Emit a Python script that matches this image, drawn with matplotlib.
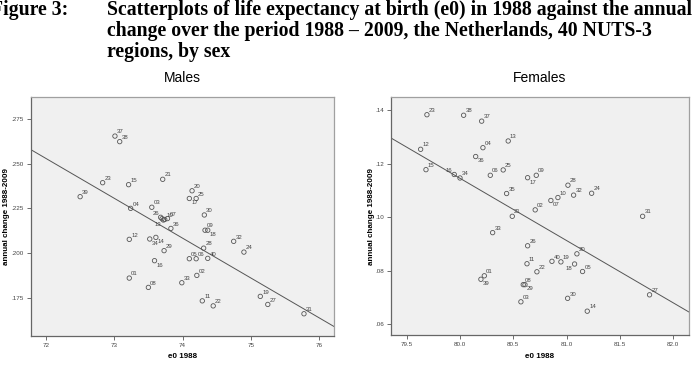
import numpy as np
import matplotlib
matplotlib.use("Agg")
import matplotlib.pyplot as plt
from matplotlib.ticker import FuncFormatter

# regions 01..40
regions = ["%02d" % i for i in range(1, 41)]

# Males : e0 1988 et variation annuelle 1988-2009
male_e0 = [73.22, 74.21, 73.55, 73.24, 74.10, 74.20, 73.78, 73.50, 74.33, 73.74,
           74.29, 73.22, 73.72, 73.61, 73.21, 73.59, 74.10, 74.37, 75.14, 74.14,
           73.71, 74.45, 72.83, 74.90, 74.20, 73.68, 75.25, 74.31, 73.73, 74.32,
           75.78, 74.75, 73.99, 73.52, 73.70, 73.83, 73.01, 73.08, 72.50, 74.37]
male_change = [.1861, .1876, .2256, .2250, .1969, .1969, .2193, .1809, .2128, .2188,
               .1734, .2077, .2185, .2088, .2382, .1958, .2305, .2128, .1759, .2348,
               .2412, .1706, .2393, .2006, .2305, .2200, .1714, .2028, .2014, .2213,
               .1662, .2066, .1835, .2079, .2192, .2138, .2653, .2622, .2315, .1971]

# Females
female_e0 = [80.228, 80.705, 80.571, 80.215, 81.149, 80.284, 80.852, 80.593, 80.715, 80.918,
             80.628, 79.631, 80.452, 81.193, 79.681, 79.946, 80.634, 81.074, 80.946, 81.096,
             80.490, 80.721, 79.690, 81.234, 80.405, 80.634, 81.777, 81.012, 80.609, 81.009,
             81.712, 81.065, 80.306, 80.000, 80.437, 80.147, 80.203, 80.034, 80.196, 80.862]
female_change = [.0781, .1027, .0684, .1259, .0797, .1156, .1062, .0748, .1156, .1073,
                 .0826, .1253, .1284, .0649, .1177, .1159, .1147, .0825, .0833, .0863,
                 .1003, .0796, .1382, .1089, .1176, .0893, .0710, .1119, .0748, .0697,
                 .1003, .1082, .0942, .1146, .1088, .1226, .1358, .1380, .0768, .0835]

male_xticks = [72, 73, 74, 75, 76]
male_yticks = [.175, .200, .225, .250, .275]
female_xticks = [79.5, 80.0, 80.5, 81.0, 81.5, 82.0]
female_yticks = [.06, .08, .10, .12, .14]

# placement des étiquettes (par défaut en haut à droite)
male_label_pos = {"17": "br", "18": "br", "16": "br", "34": "br", "14": "br", "13": "bl",
                  "26": "tl", "35": None}
female_label_pos = {"17": "br", "39": "br", "29": "br", "07": "br", "36": "br", "18": "bl", "16": "tl"}

plt.rcParams["font.family"] = ["Liberation Sans", "DejaVu Sans"]

fig = plt.figure(figsize=(6.92, 3.66), dpi=100)
fig.patch.set_facecolor("white")

# titre
title_font = dict(family="Liberation Serif", weight="bold", fontsize=14.2, color="black")
fig.text(-9 / 692, 1 - 10 / 366, "Figure 3:", va="center", ha="left", **title_font)
fig.text(107 / 692, 1 - 10 / 366, "Scatterplots of life expectancy at birth (e0) in 1988 against the annual",
         va="center", ha="left", **title_font)
fig.text(107 / 692, 1 - 31 / 366, "change over the period 1988 \u2013 2009, the Netherlands, 40 NUTS-3",
         va="center", ha="left", **title_font)
fig.text(107 / 692, 1 - 52 / 366, "regions, by sex", va="center", ha="left", **title_font)


def draw_panel(rect, x, y, xlim, ylim, xticks, yticks, xfmt, yfmt, label_pos, name, ylab_x):
    ax = fig.add_axes(rect)
    ax.set_facecolor("#f0f0f0")
    ax.scatter(x, y, s=10, facecolors="none", edgecolors="#555555", linewidths=0.6, zorder=3)

    # droite de regression
    b, a = np.polyfit(x, y, 1)
    xs = np.array(xlim)
    ax.plot(xs, a + b * xs, color="#555555", lw=0.7, zorder=2)

    offsets = {"tr": ((1.3, 1.3), "left", "bottom"),
               "br": ((1.3, -1.3), "left", "top"),
               "bl": ((-1.3, -1.3), "right", "top"),
               "tl": ((-1.3, 1.3), "right", "bottom")}
    for lab, xi, yi in zip(regions, x, y):
        pos = label_pos.get(lab, "tr")
        if pos is None:
            continue
        off, ha, va = offsets[pos]
        ax.annotate(lab, (xi, yi), xytext=off, textcoords="offset points",
                    ha=ha, va=va, fontsize=4.3, color="#444444", zorder=4)

    ax.set_xlim(xlim)
    ax.set_ylim(ylim)
    ax.set_xticks(xticks)
    ax.set_yticks(yticks)
    ax.xaxis.set_major_formatter(FuncFormatter(xfmt))
    ax.yaxis.set_major_formatter(FuncFormatter(yfmt))
    ax.tick_params(length=3, width=0.6, color="#555555", labelsize=4.5, labelcolor="#444444", pad=2)

    for s in ["left", "bottom"]:
        ax.spines[s].set_color("#666666")
        ax.spines[s].set_linewidth(0.9)
    for s in ["top", "right"]:
        ax.spines[s].set_color("#a0a0a0")
        ax.spines[s].set_linewidth(0.9)

    cx = rect[0] + rect[2] / 2
    fig.text(cx, 1 - 78 / 366, name, ha="center", va="center", fontsize=10)
    fig.text(cx, 1 - 357 / 366, "e0 1988", ha="center", va="center", fontsize=5.8, weight="bold")
    fig.text(ylab_x / 692, rect[1] + rect[3] / 2, "annual change 1988-2009", ha="center", va="center",
             rotation=90, fontsize=5.8, weight="bold")
    return ax


draw_panel([31 / 692, 1 - 336 / 366, 303 / 692, 239 / 366],
           male_e0, male_change, (71.78, 76.22), (0.1538, 0.2871),
           male_xticks, male_yticks,
           lambda v, p: "%d" % v, lambda v, p: ("%.3f" % v).lstrip("0"),
           male_label_pos, "Males", 7)

draw_panel([391.3 / 692, 1 - 335.3 / 366, 297.4 / 692, 238 / 366],
           female_e0, female_change, (79.356, 82.144), (0.0559, 0.1447),
           female_xticks, female_yticks,
           lambda v, p: "%.1f" % v, lambda v, p: ("%.2f" % v).lstrip("0"),
           female_label_pos, "Females", 371)

fig.savefig("out.png", dpi=100)
